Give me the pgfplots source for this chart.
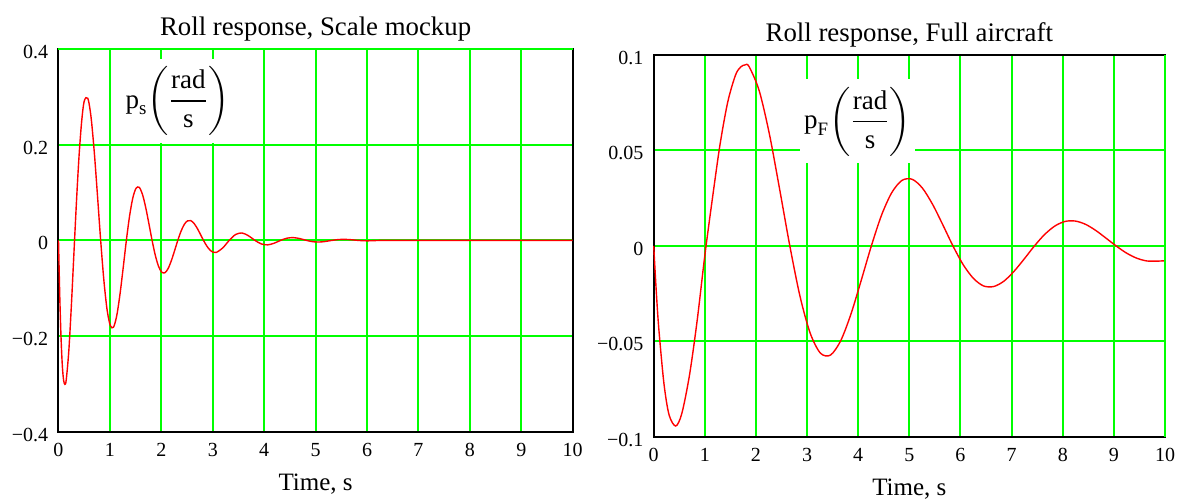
\documentclass[border=0pt]{standalone}
\usepackage{fontspec}
\setmainfont{Liberation Serif}
\usepackage{amsmath}
\usepackage{pgfplots}
\pgfplotsset{compat=1.18}
\definecolor{gridgreen}{RGB}{0,255,0}
\definecolor{curvered}{RGB}{255,0,0}
\pgfplotsset{
  mcad/.style={
    scale only axis,
    anchor=south west,
    axis line style={black, line width=1pt},
    grid=major,
    major grid style={gridgreen, line width=1pt},
    major tick length=0pt,
    xmin=0, xmax=10,
    xtick={0,1,2,3,4,5,6,7,8,9,10},
    xticklabels={0,1,2,3,4,5,6,7,8,9,10},
    xticklabel style={font=\fontsize{10}{12}\selectfont, anchor=base, inner sep=0pt, yshift=-12.5pt},
    yticklabel style={font=\fontsize{10}{12}\selectfont, anchor=east, inner sep=0pt, xshift=-5pt, yshift=-1.5pt},
    title style={font=\fontsize{13.4}{15}\selectfont, at={(axis description cs:0.5,1)}, anchor=base, inner sep=0pt, yshift=1pt},
    xlabel style={font=\fontsize{12.5}{15}\selectfont, at={(axis description cs:0.5,0)}, anchor=base, inner sep=0pt, yshift=-29.5pt},
    xlabel={Time, s},
    clip=false,
  },
  curve/.style={curvered, line width=0.7pt, smooth, no marks},
}
\begin{document}
\begin{tikzpicture}
\useasboundingbox (0,0) rectangle (593pt,249.5pt);
% ---------- left: scale mockup ----------
\begin{axis}[mcad,
  at={(29.25pt,33.65pt)}, width=257.1pt, height=191.35pt,
  ymin=-0.4, ymax=0.4,
  ytick={-0.4,-0.2,0,0.2,0.4},
  yticklabels={−0.4,−0.2,0,0.2,0.4},
  title={Roll response, Scale mockup}]
\node[fill=white, inner sep=0pt, minimum width=57pt, minimum height=42pt,
  font=\fontsize{13.5}{16}\selectfont] at (axis cs:2.314,0.2914)
  {$\text{p}_{\text{s}}{\left(\dfrac{\text{rad}}{\text{s}}\right)}$};
\addplot[curve] coordinates {
(0,0) (0.025,-0.118) (0.05,-0.205) (0.075,-0.263) (0.1,-0.293) (0.125,-0.301)
(0.15,-0.292) (0.2,-0.232) (0.25,-0.137) (0.3,-0.027) (0.35,0.082) (0.4,0.177)
(0.45,0.248) (0.5,0.291) (0.57,0.297) (0.6325,0.258) (0.695,0.1856) (0.7575,0.0945)
(0.82,0) (0.8825,-0.0836) (0.945,-0.1451) (1.0075,-0.1782) (1.07,-0.1814)
(1.1325,-0.1575) (1.195,-0.1133) (1.2575,-0.0578) (1.32,0) (1.3825,0.0511)
(1.445,0.0886) (1.5075,0.1088) (1.57,0.1108) (1.6325,0.0963) (1.695,0.0692)
(1.7575,0.0353) (1.82,0) (1.8825,-0.0312) (1.945,-0.0541) (2.0075,-0.0665)
(2.07,-0.0677) (2.1325,-0.0588) (2.195,-0.0423) (2.2575,-0.0216) (2.32,0)
(2.3825,0.0190) (2.445,0.0331) (2.5075,0.0407) (2.57,0.0413) (2.6325,0.0359)
(2.695,0.0258) (2.7575,0.0131) (2.82,0) (2.8825,-0.0116) (2.945,-0.0201)
(3.0075,-0.0248) (3.07,-0.0252) (3.195,-0.0158) (3.32,0) (3.445,0.0123)
(3.57,0.0154) (3.695,0.0096) (3.82,0) (3.945,-0.0075) (4.07,-0.0094)
(4.195,-0.0059) (4.32,0) (4.445,0.0046) (4.57,0.0057) (4.695,0.0036) (4.82,0)
(4.945,-0.0028) (5.07,-0.0035) (5.195,-0.0022) (5.32,0) (5.445,0.0017)
(5.57,0.0021) (5.695,0.0013) (5.82,0) (6,-0.001) (6.32,0) (7,0) (8,0) (9,0) (10,0)
};
\draw[gridgreen, line width=1pt] (rel axis cs:0,1) -- (rel axis cs:1,1);
\end{axis}
% ---------- right: full aircraft ----------
\begin{axis}[mcad,
  at={(326.85pt,31.15pt)}, width=255.65pt, height=190.85pt,
  ymin=-0.1, ymax=0.1,
  ytick={-0.1,-0.05,0,0.05,0.1},
  yticklabels={−0.1,−0.05,0,0.05,0.1},
  title={Roll response, Full aircraft}]
\node[fill=white, inner sep=0pt, minimum width=57.5pt, minimum height=42pt,
  font=\fontsize{13.5}{16}\selectfont] at (axis cs:3.986,0.0652)
  {$\text{p}_{\text{F}}{\left(\dfrac{\text{rad}}{\text{s}}\right)}$};
\addplot[curve] coordinates {
(0,0) (0.05,-0.0238) (0.1,-0.0435) (0.2,-0.0721) (0.3,-0.0885) (0.43,-0.0944)
(0.55,-0.0878) (0.7,-0.0677) (0.85,-0.0391) (1.0,-0.005) (1.15,0.0252)
(1.3,0.0536) (1.45,0.0756) (1.6,0.0895) (1.7,0.0937) (1.785,0.0948)
(1.864,0.0940) (2.063,0.0813) (2.263,0.0585) (2.462,0.0298) (2.662,0)
(2.861,-0.0264) (3.060,-0.0457) (3.260,-0.0562) (3.459,-0.0572) (3.659,-0.0496)
(3.858,-0.0357) (4.057,-0.0182) (4.257,0) (4.456,0.0161) (4.656,0.0279)
(4.855,0.0343) (5.054,0.0349) (5.254,0.0303) (5.453,0.0218) (5.653,0.0111)
(5.852,0) (6.051,-0.0098) (6.251,-0.0170) (6.450,-0.0210) (6.650,-0.0213)
(6.849,-0.0185) (7.048,-0.0133) (7.248,-0.0068) (7.447,0) (7.647,0.0060)
(7.846,0.0104) (8.045,0.0128) (8.245,0.0130) (8.444,0.0113) (8.644,0.0081)
(8.843,0.0041) (9.042,0) (9.242,-0.0037) (9.441,-0.0064) (9.640,-0.0079)
(9.840,-0.0080) (10,-0.0078)
};
\draw[gridgreen, line width=1pt] (rel axis cs:1,0) -- (rel axis cs:1,1);
\end{axis}
\end{tikzpicture}
\end{document}
